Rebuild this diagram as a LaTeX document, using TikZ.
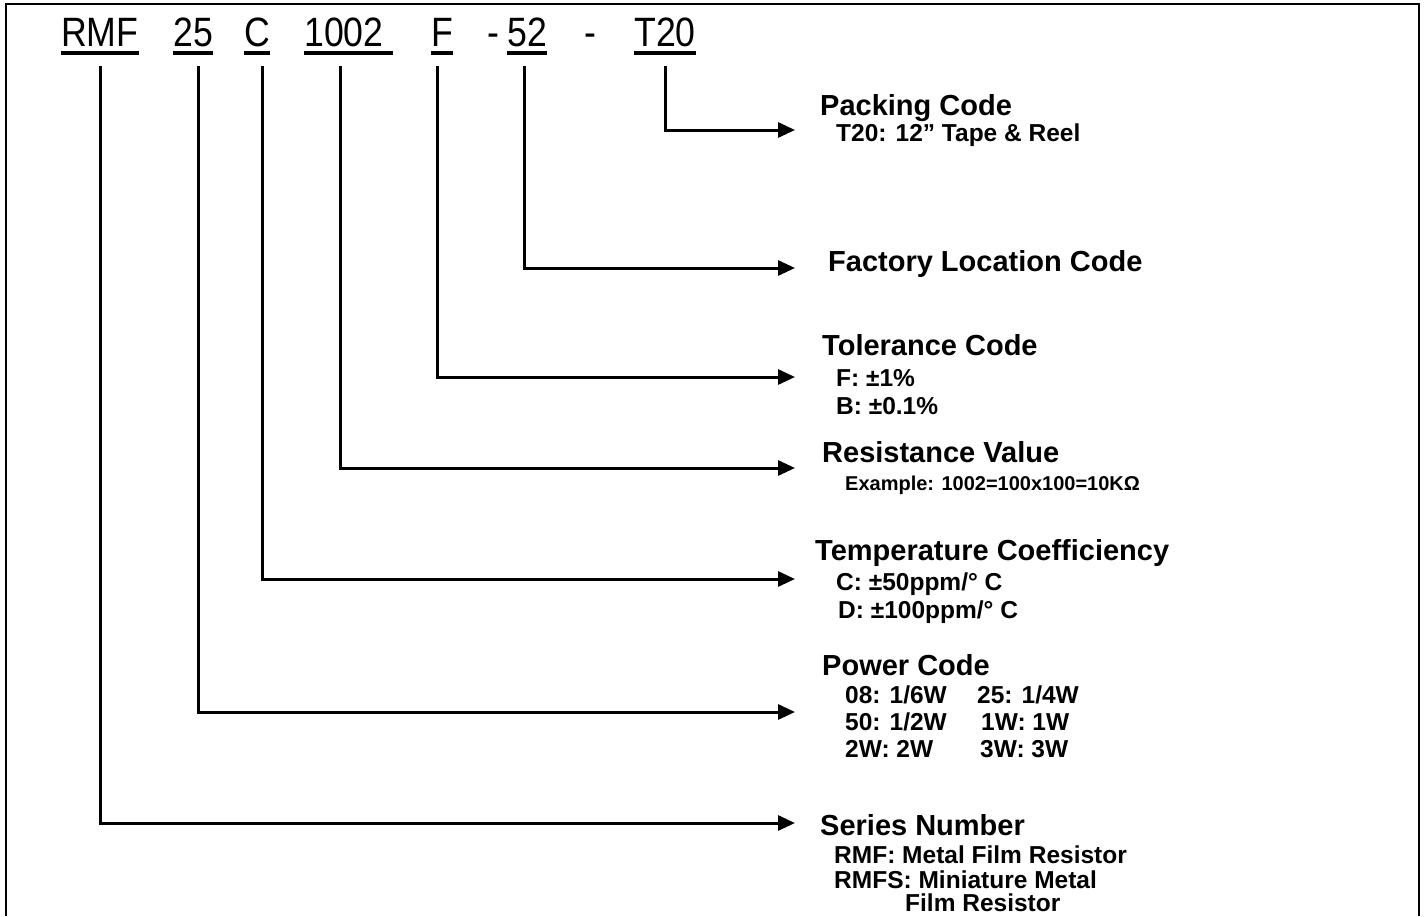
\documentclass[tikz,border=0pt]{standalone}
\usepackage{fontspec}
\setmainfont{Liberation Sans}
\newfontfamily\codefont{Liberation Sans}[FakeStretch=0.87]
\usetikzlibrary{arrows.meta}

\begin{document}
\begin{tikzpicture}[
  x=1pt, y=-1pt,
  code/.style={inner sep=0pt, anchor=base west, font=\codefont\fontsize{41}{44}\selectfont},
  headline/.style={inner sep=0pt, anchor=base west, font=\bfseries\fontsize{29}{32}\selectfont},
  detail/.style={inner sep=0pt, anchor=base west, font=\bfseries\fontsize{24.5}{28}\selectfont},
  uline/.style={line width=3.5pt},
  arrow/.style={-{Triangle[length=17pt, width=15pt]}, line width=3pt},
  frame/.style={line width=2.5pt},
]
  \useasboundingbox (0,0) rectangle (1424,916);

  % Frame (open at the bottom)
  \draw[frame] (6,916) |- (1419,4) -- (1419,916);

  % Part number
  \node[code] (rmf)   at (61,46)  {RMF};
  \node[code] (pw)    at (173,46) {25};
  \node[code] (tc)    at (244,46) {C};
  \node[code] (rv)    at (304,46) {1002};
  \node[code] (tol)   at (431,46) {F};
  \node[code] (dash1) at (487,46) {-};
  \node[code] (fac)   at (507,46) {52};
  \node[code] (dash2) at (584,46) {-};
  \node[code] (pk)    at (634,46) {T20};

  % Underlines
  \foreach \n in {rmf,pw,tc,tol,fac,pk}
    \draw[uline] ([yshift=-7pt]\n.base west) -- ([yshift=-7pt]\n.base east);
  \draw[uline] ([yshift=-7pt]rv.base west) -- ([xshift=9pt,yshift=-7pt]rv.base east);

  % Drop points and arrow tips
  \coordinate (pk-drop)  at (665,66);  \coordinate (pk-tip)  at (795,130);
  \coordinate (fac-drop) at (524,66);  \coordinate (fac-tip) at (795,268);
  \coordinate (tol-drop) at (437,66);  \coordinate (tol-tip) at (795,377);
  \coordinate (rv-drop)  at (340,66);  \coordinate (rv-tip)  at (795,468);
  \coordinate (tc-drop)  at (262,66);  \coordinate (tc-tip)  at (795,579);
  \coordinate (pw-drop)  at (198,66);  \coordinate (pw-tip)  at (795,712);
  \coordinate (rmf-drop) at (100,66);  \coordinate (rmf-tip) at (795,823);

  % Connectors
  \foreach \n in {pk,fac,tol,rv,tc,pw,rmf}
    \draw[arrow] (\n-drop) |- (\n-tip);

  % Packing code
  \node[headline] (pk-head) at (820,115) {Packing Code};
  \node[detail]   (pk-l1)   at (836,141) {T20: 12” Tape \& Reel};

  % Factory location
  \node[headline] (fac-head) at (828,271) {Factory Location Code};

  % Tolerance
  \node[headline] (tol-head) at (822,355) {Tolerance Code};
  \node[detail]   (tol-l1)   at (836,386) {F: ±1\%};
  \node[detail]   (tol-l2)   at (836,414) {B: ±0.1\%};

  % Resistance value
  \node[headline] (rv-head) at (822,462) {Resistance Value};
  \node[detail, font=\bfseries\fontsize{20}{24}\selectfont]
                  (rv-l1)   at (845,490) {Example: 1002=100x100=10KΩ};

  % Temperature coefficient
  \node[headline] (tc-head) at (815,560) {Temperature Coefficiency};
  \node[detail]   (tc-l1)   at (836,590) {C: ±50ppm/° C};
  \node[detail]   (tc-l2)   at (838,618) {D: ±100ppm/° C};

  % Power code
  \node[headline] (pw-head) at (822,675) {Power Code};
  \node[detail]   (pw-a1)   at (845,703) {08: 1/6W};
  \node[detail]   (pw-b1)   at (977,703) {25: 1/4W};
  \node[detail]   (pw-a2)   at (845,730) {50: 1/2W};
  \node[detail]   (pw-b2)   at (981,730) {1W: 1W};
  \node[detail]   (pw-a3)   at (845,757) {2W: 2W};
  \node[detail]   (pw-b3)   at (980,757) {3W: 3W};

  % Series number
  \node[headline] (rmf-head) at (820,835) {Series Number};
  \node[detail]   (rmf-l1)   at (834,863) {RMF: Metal Film Resistor};
  \node[detail]   (rmf-l2)   at (834,888) {RMFS: Miniature Metal};
  \node[detail]   (rmf-l3)   at (905,911) {Film Resistor};
\end{tikzpicture}
\end{document}
